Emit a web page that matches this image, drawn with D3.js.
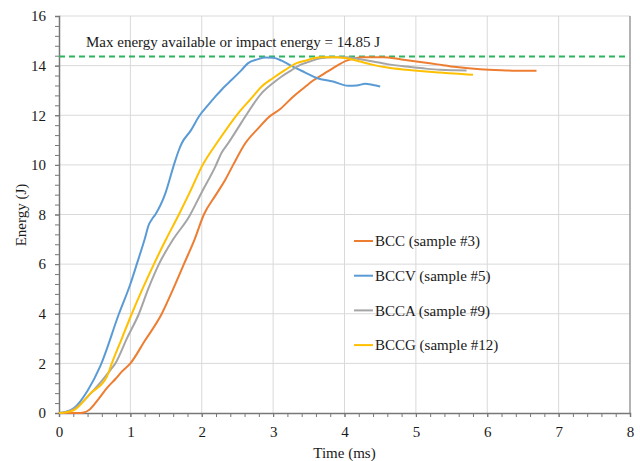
<!DOCTYPE html>
<html lang="en">
  <head>
    <meta charset="utf-8" />
    <style>
      body { margin: 0; background: #fff; }
    </style>
    <script src="https://d3js.org/d3.v7.min.js"></script>
  </head>
  <body>
    <svg width="640" height="461"></svg>
    <script>
      // series: time (ms) and energy (J)
      const bccTime = [0, 0.3, 0.35, 0.42, 0.55, 0.67, 0.8, 0.88, 1.0, 1.2, 1.44, 1.6, 1.75, 1.9, 2.03, 2.2, 2.33, 2.44, 2.61, 2.8, 2.93, 3.1, 3.28, 3.45, 3.56, 3.7, 3.84, 4.03, 4.26, 4.54, 4.8, 5.06, 5.3, 5.57, 5.9, 6.2, 6.5, 6.69];
      const bccEnergy = [0, 0, 0.02, 0.12, 0.55, 1.0, 1.4, 1.67, 2.0, 2.9, 4.0, 5.0, 6.0, 7.0, 8.0, 8.8, 9.4, 10.0, 10.87, 11.5, 11.9, 12.25, 12.75, 13.15, 13.4, 13.65, 13.9, 14.2, 14.34, 14.34, 14.25, 14.15, 14.05, 13.94, 13.85, 13.81, 13.79, 13.79];

      const bccvTime = [0, 0.1, 0.21, 0.4, 0.58, 0.84, 1.0, 1.09, 1.2, 1.26, 1.3, 1.35, 1.49, 1.61, 1.68, 1.72, 1.85, 1.96, 2.1, 2.19, 2.3, 2.42, 2.55, 2.65, 2.78, 2.89, 3.0, 3.12, 3.25, 3.45, 3.61, 3.84, 4.05, 4.17, 4.29, 4.4, 4.5];
      const bccvEnergy = [0, 0.05, 0.2, 0.9, 1.9, 4.0, 5.2, 6.0, 7.0, 7.6, 7.8, 8.0, 8.85, 10.0, 10.6, 10.87, 11.4, 11.95, 12.45, 12.75, 13.1, 13.43, 13.8, 14.1, 14.25, 14.33, 14.32, 14.2, 14.0, 13.72, 13.5, 13.36, 13.19, 13.2, 13.27, 13.22, 13.16];

      const bccaTime = [0, 0.1, 0.25, 0.49, 0.72, 0.79, 0.95, 1.12, 1.25, 1.4, 1.6, 1.82, 2.0, 2.19, 2.28, 2.37, 2.5, 2.61, 2.84, 3.0, 3.12, 3.25, 3.38, 3.5, 3.66, 3.85, 4.03, 4.2, 4.4, 4.6, 4.87, 5.1, 5.34, 5.55, 5.71];
      const bccaEnergy = [0, 0.03, 0.25, 0.93, 1.73, 2.0, 3.0, 4.0, 5.0, 6.0, 7.0, 7.9, 8.9, 9.93, 10.5, 10.87, 11.45, 11.95, 12.89, 13.3, 13.56, 13.8, 14.03, 14.15, 14.3, 14.34, 14.34, 14.27, 14.17, 14.06, 13.96, 13.89, 13.83, 13.81, 13.8];

      const bccgTime = [0, 0.1, 0.21, 0.44, 0.67, 0.74, 0.88, 1.02, 1.17, 1.33, 1.5, 1.68, 1.85, 2.0, 2.24, 2.51, 2.7, 2.84, 3.0, 3.17, 3.33, 3.45, 3.66, 3.85, 4.03, 4.2, 4.4, 4.6, 4.87, 5.1, 5.34, 5.6, 5.8];
      const bccgEnergy = [0, 0.03, 0.12, 0.79, 1.46, 2.0, 3.0, 4.0, 5.0, 6.0, 7.0, 8.0, 9.0, 9.93, 11.0, 12.08, 12.7, 13.16, 13.5, 13.83, 14.1, 14.2, 14.34, 14.34, 14.3, 14.18, 14.03, 13.92, 13.83, 13.77, 13.72, 13.67, 13.63];

      const seriesNames = ["BCC (sample #3)", "BCCV (sample #5)", "BCCA (sample #9)", "BCCG (sample #12)"];
      const seriesColors = ["#ED7D31", "#5B9BD5", "#A5A5A5", "#FFC000"];
      const xTicks = [0, 1, 2, 3, 4, 5, 6, 7, 8];
      const yTicks = [0, 2, 4, 6, 8, 10, 12, 14, 16];
      const maxEnergyLine = 14.37;
      const maxEnergyLabel = "Max energy available or impact energy = 14.85 J";

      const series = [
        { name: seriesNames[0], color: seriesColors[0], t: bccTime, e: bccEnergy },
        { name: seriesNames[1], color: seriesColors[1], t: bccvTime, e: bccvEnergy },
        { name: seriesNames[2], color: seriesColors[2], t: bccaTime, e: bccaEnergy },
        { name: seriesNames[3], color: seriesColors[3], t: bccgTime, e: bccgEnergy },
      ];

      const serif = "Liberation Serif, Times New Roman, DejaVu Serif, serif";
      const ink = "#1a1a1a";

      const svg = d3.select("svg")
        .attr("font-family", serif);
      const plotLeft = 59, plotRight = 630, plotTop = 16, plotBottom = 413;

      const x = d3.scaleLinear().domain([0, 8]).range([plotLeft, plotRight]);
      const y = d3.scaleLinear().domain([0, 16]).range([plotBottom, plotTop]);

      // gridlines
      svg.append("g")
        .selectAll("line")
        .data(yTicks.slice(1))
        .join("line")
        .attr("x1", plotLeft).attr("x2", plotRight)
        .attr("y1", d => y(d)).attr("y2", d => y(d))
        .attr("stroke", "#D9D9D9").attr("stroke-width", 1);
      svg.append("g")
        .selectAll("line")
        .data(xTicks.slice(1, -1))
        .join("line")
        .attr("x1", d => x(d)).attr("x2", d => x(d))
        .attr("y1", plotTop).attr("y2", plotBottom)
        .attr("stroke", "#D9D9D9").attr("stroke-width", 1);

      // right frame
      svg.append("line")
        .attr("x1", plotRight).attr("x2", plotRight)
        .attr("y1", plotTop).attr("y2", plotBottom)
        .attr("stroke", "#9a9a9a").attr("stroke-width", 1.5);

      // minor ticks
      svg.append("g")
        .attr("transform", "translate(0," + plotBottom + ")")
        .call(d3.axisBottom(x).ticks(40).tickSize(4).tickFormat(""))
        .call(g => g.select(".domain").remove())
        .selectAll("line").attr("stroke", "#777");
      svg.append("g")
        .attr("transform", "translate(" + plotLeft + ",0)")
        .call(d3.axisLeft(y).tickValues(d3.range(0, 16.01, 0.4)).tickSize(4).tickFormat(""))
        .call(g => g.select(".domain").remove())
        .selectAll("line").attr("stroke", "#777");

      // axes
      const xAxis = svg.append("g")
        .attr("transform", "translate(0," + plotBottom + ")")
        .call(d3.axisBottom(x).tickValues(xTicks).tickSize(4).tickPadding(9))
        .attr("font-family", serif).attr("font-size", 15);
      xAxis.select(".domain").attr("stroke", "#777").attr("stroke-width", 1.5);
      xAxis.selectAll("line").attr("stroke", "#777");
      xAxis.selectAll("text").attr("fill", ink);

      const yAxis = svg.append("g")
        .attr("transform", "translate(" + plotLeft + ",0)")
        .call(d3.axisLeft(y).tickValues(yTicks).tickSize(4).tickPadding(9))
        .attr("font-family", serif).attr("font-size", 15);
      yAxis.select(".domain").attr("stroke", "#777").attr("stroke-width", 1.5);
      yAxis.selectAll("line").attr("stroke", "#777");
      yAxis.selectAll("text").attr("fill", ink);

      // impact energy line
      svg.append("line")
        .attr("x1", plotLeft).attr("x2", plotRight - 3)
        .attr("y1", y(maxEnergyLine)).attr("y2", y(maxEnergyLine))
        .attr("stroke", "#2EB35E").attr("stroke-width", 2)
        .attr("stroke-dasharray", "6,4");
      svg.append("text")
        .attr("x", 86).attr("y", 47)
        .attr("font-size", 15).attr("fill", ink)
        .text(maxEnergyLabel);

      // curves
      const line = d3.line()
        .x(d => x(d[0]))
        .y(d => y(d[1]))
        .curve(d3.curveMonotoneX);

      svg.append("g")
        .selectAll("path")
        .data(series)
        .join("path")
        .attr("d", s => line(s.t.map((t, i) => [t, s.e[i]])))
        .attr("fill", "none")
        .attr("stroke", s => s.color)
        .attr("stroke-width", 2)
        .attr("stroke-linejoin", "round");

      // legend
      const legend = svg.append("g")
        .selectAll("g")
        .data(series)
        .join("g")
        .attr("transform", (s, i) => "translate(354," + (241 + i * 34.7) + ")");
      legend.append("line")
        .attr("x1", 0).attr("x2", 19)
        .attr("stroke", s => s.color).attr("stroke-width", 2);
      legend.append("text")
        .attr("x", 21).attr("dy", "0.35em")
        .attr("font-size", 15).attr("fill", ink)
        .text(s => s.name);

      // axis titles
      svg.append("text")
        .attr("x", (plotLeft + plotRight) / 2).attr("y", 458)
        .attr("text-anchor", "middle").attr("font-size", 15).attr("fill", ink)
        .text("Time (ms)");
      svg.append("text")
        .attr("transform", "translate(26,215) rotate(-90)")
        .attr("text-anchor", "middle").attr("font-size", 15).attr("fill", ink)
        .text("Energy (J)");
    </script>
  </body>
</html>
